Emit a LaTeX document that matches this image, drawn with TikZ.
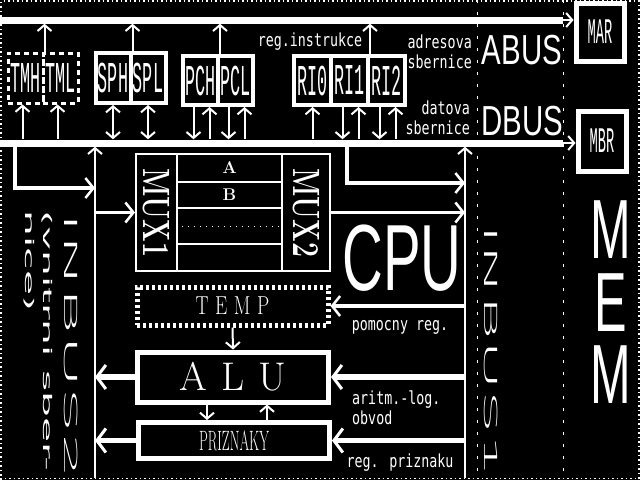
\documentclass[tikz,border=0pt]{standalone}
\usepackage{fontspec}
\newfontfamily\pixfont[FakeStretch=0.74]{DejaVu Sans Mono}
\newfontfamily\regfont[FakeStretch=0.38]{Liberation Mono}
\newfontfamily\thinsans{Liberation Sans}
\newfontfamily\hairsans[UprightFont={* ExtraLight}]{DejaVu Sans}
\newfontfamily\smallsans{DejaVu Sans}
\usetikzlibrary{positioning, arrows.meta, calc}
\tikzset{
  bus/.style={fill=white, inner sep=0pt, minimum height=7pt, minimum width=563pt, anchor=west},
  regbox/.style={draw=white, line width=4pt, minimum width=35pt, minimum height=50pt, inner sep=0pt, text=white, font=\regfont\fontsize{44}{44}\selectfont},
  tmbox/.style={regbox, line width=3pt, dash pattern=on 5pt off 4pt},
  memreg/.style={regbox, line width=5pt, minimum width=48pt, font=\regfont\fontsize{36}{36}\selectfont},
  muxcell/.style={draw=white, line width=2pt, minimum width=105pt, inner sep=0pt, text=white, font=\bfseries\fontsize{17}{17}\selectfont},
  unitbox/.style={draw=white, line width=5pt, minimum width=191pt, inner sep=0pt, text=white},
  wire/.style={white, line width=2pt, -{Straight Barb[length=6pt, width=14pt]}},
  biwire/.style={wire, {Straight Barb[length=6pt, width=14pt]}-{Straight Barb[length=6pt, width=14pt]}},
  midwire/.style={white, line width=3.5pt, -{Straight Barb[length=8pt, width=20pt, line width'=2.5pt]}},
  fatwire/.style={white, line width=5.5pt, -{Straight Barb[length=9pt, width=24pt, line width'=3pt]}},
  lbl/.style={text=white, inner sep=0pt, font=\pixfont\fontsize{18}{20}\selectfont},
  biglbl/.style={text=white, inner sep=0pt, font=\thinsans\fontsize{84}{84}\selectfont},
  vlbl/.style={text=white, rotate=-90, inner sep=0pt, font=\hairsans\fontsize{18}{18}\selectfont},
  dotline/.style={white, line width=1pt, dash pattern=on 3pt off 9pt},
  edgedots/.style={white, line width=1.5pt, dash pattern=on 1.5pt off 3pt}
}
\begin{document}
\begin{tikzpicture}[x=1pt, y=-1pt]
\fill[black] (0,0) rectangle (640,480);
\useasboundingbox (0,0) rectangle (640,480);
\draw[edgedots] (1,480) -- (1,1) -- (639,1) -- (639,480);
\draw[edgedots] (0,478.5) -- (640,478.5);
\draw[dotline] (477,0) -- (477,480);
\draw[dotline] (563,0) -- (563,480);

\node[bus] (abus) at (0,20) {};
\node[bus] (dbus) at (0,143) {};
\node[memreg, minimum height=58pt] (mar) at (600,32) {MAR};
\node[memreg, minimum height=60pt] (mbr) at (602,141) {MBR};
\draw[wire] (abus.east) -- (mar.west |- abus.east);
\draw[wire] (dbus.east) -- (mbr.west |- dbus.east);

\node[tmbox] (tmh) at (25.5,78) {TMH};
\node[tmbox] (tml) at (60.5,78) {TML};
\node[regbox] (sph) at (113,78) {SPH};
\node[regbox] (spl) at (148,78) {SPL};
\node[regbox, minimum height=49pt] (pch) at (200.5,80.5) {PCH};
\node[regbox, minimum height=49pt] (pcl) at (235.5,80.5) {PCL};
\node[regbox, minimum width=37pt, minimum height=49pt] (ri0) at (312.5,80.5) {RI0};
\node[regbox, minimum width=37pt, minimum height=49pt] (ri1) at (349.5,80.5) {RI1};
\node[regbox, minimum width=37pt, minimum height=49pt] (ri2) at (386.5,80.5) {RI2};

\foreach \r in {tmh,sph,pch,ri1}
  \draw[wire] (\r.north east) -- (\r.north east |- abus.south);
\draw[wire] ([xshift=-3pt]tmh.south |- dbus.north) -- ([xshift=-3pt]tmh.south);
\draw[wire] ([xshift=-3pt]tml.south |- dbus.north) -- ([xshift=-3pt]tml.south);
\draw[biwire] (sph.south) -- (sph.south |- dbus.north);
\draw[biwire] (spl.south) -- (spl.south |- dbus.north);
\foreach \r in {pch,pcl,ri1,ri2} {
  \draw[wire] ([xshift=-7pt]\r.south) -- ([xshift=-7pt]\r.south |- dbus.north);
  \draw[wire] ([xshift=9pt]\r.south |- dbus.north) -- ([xshift=9pt]\r.south);
}
\draw[wire] (ri0.south |- dbus.north) -- (ri0.south);

\node[lbl] (rilbl) at (310,42) {reg.instrukce};
\node[lbl, align=right, anchor=east] (adrlbl) at (472,52) {adresova\\sbernice};
\node[lbl, align=right, anchor=east] (datlbl) at (470,118) {datova\\sbernice};
\node[biglbl, font=\thinsans\fontsize{42}{42}\selectfont] (abuslbl) at (522,50) {\scalebox{0.7}[1]{ABUS}};
\node[biglbl, font=\thinsans\fontsize{42}{42}\selectfont] (dbuslbl) at (522,121) {\scalebox{0.7}[1]{DBUS}};

\coordinate (ib2) at (95,478);
\coordinate (ib1) at (465,478);
\draw[wire] (ib2) -- (ib2 |- dbus.south);
\draw[wire] (ib1) -- (ib1 |- dbus.south);
\draw[midwire] ([xshift=15pt]dbus.south west) |- (ib2 |- 0,188);
\draw[midwire] ([xshift=347pt]dbus.south west) |- (ib1 |- 0,183);

\node[muxcell, minimum width=41pt, minimum height=117pt, font=\bfseries\fontsize{38}{38}\selectfont] (mux1) at (156.5,212.5) {\rotatebox{-90}{\scalebox{0.7}[1]{MUX1}}};
\node[muxcell, minimum width=48pt, minimum height=117pt, font=\bfseries\fontsize{38}{38}\selectfont] (mux2) at (306,212.5) {\rotatebox{-90}{\scalebox{0.7}[1]{MUX2}}};
\node[muxcell, minimum height=28pt] (ra) at (229.5,168) {A};
\node[muxcell, minimum height=26pt] (rb) at (229.5,195) {B};
\node[muxcell, minimum height=36pt] (rc) at (229.5,226) {};
\node[muxcell, minimum height=27pt] (rd) at (229.5,257.5) {};
\draw[white, line width=1pt, dash pattern=on 1pt off 5pt] ([xshift=6pt]rc.west) -- ([xshift=-3pt]rc.east);
\draw[midwire] (ib2 |- mux1.west) -- (mux1.west);
\draw[midwire] (mux2.east) -- (ib1 |- mux2.east);

\node[unitbox, dash pattern=on 3pt off 3pt, minimum height=38pt, font=\fontsize{26}{26}\selectfont] (temp) at (232.5,306) {\scalebox{0.75}[1]{T\,\,E\,\,M\,\,P}};
\node[unitbox, minimum height=50pt, font=\fontsize{40}{40}\selectfont] (alu) at (233,377) {A\hspace{14pt}L\hspace{14pt}U};
\node[unitbox, minimum height=36pt, font=\fontsize{28}{28}\selectfont] (prz) at (234,440.5) {\scalebox{0.5}[1]{PRIZNAKY}};
\draw[midwire] (ib1 |- temp.east) -- (temp.east);
\draw[wire] (temp.south) -- (alu.north);
\draw[fatwire] (alu.west) -- (ib2 |- alu.west);
\draw[fatwire] (ib1 |- alu.east) -- (alu.east);
\draw[wire] ([xshift=-26pt]alu.south) -- ([xshift=-26pt]alu.south |- prz.north);
\draw[wire] ([xshift=34pt]alu.south |- prz.north) -- ([xshift=34pt]alu.south);
\draw[fatwire] (prz.west) -- (ib2 |- prz.west);
\draw[fatwire] (ib1 |- prz.east) -- (prz.east);

\node[lbl] (pomlbl) at (400,327) {pomocny reg.};
\node[lbl, align=left, anchor=west] (arilbl) at (352,408) {aritm.-log.\\obvod};
\node[lbl] (przlbl) at (400,463) {reg. priznaku};
\node[biglbl, font=\thinsans\fontsize{94}{94}\selectfont] (cpu) at (402,258) {\scalebox{0.6}[1]{CPU}};
\node[biglbl] (mem1) at (611,230) {\scalebox{0.58}[1]{M}};
\node[biglbl] (mem2) at (611,303) {\scalebox{0.58}[1]{E}};
\node[biglbl] (mem3) at (611,375) {\scalebox{0.58}[1]{M}};
\node[vlbl] (inbus1) at (491,351) {\scalebox{3.8}[1]{INBUS1}};
\node[vlbl] (inbus2) at (71,346) {\scalebox{4}[1]{INBUS2}};
\node[text=white, rotate=-90, anchor=north west, align=left, font=\smallsans\fontsize{12}{18}\selectfont] (vnit) at (56,207) {\scalebox{3.4}[1]{(vnitrni sber-}\\\scalebox{3.4}[1]{nice)}};
\end{tikzpicture}
\end{document}
